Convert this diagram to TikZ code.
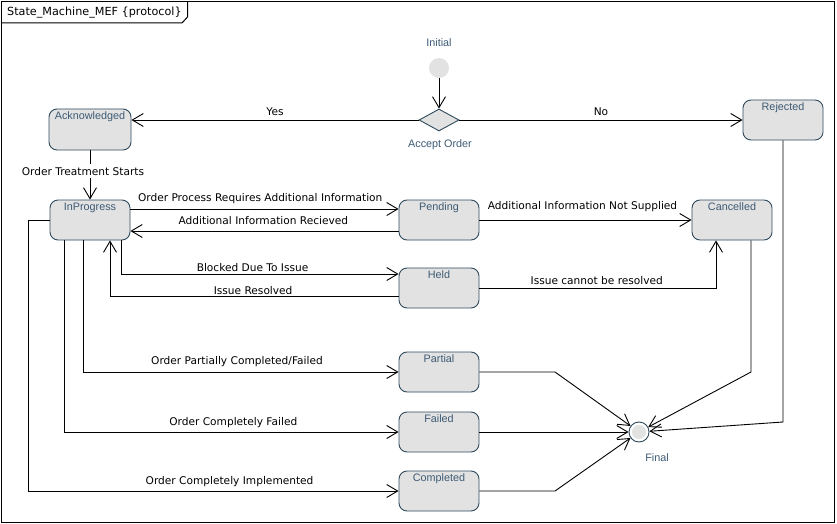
\documentclass[tikz,border=0pt]{standalone}
\usepackage{fontspec}
\setmainfont{DejaVu Sans}
\newfontfamily\nlfont{Liberation Sans}
\usetikzlibrary{arrows.meta,shapes.geometric}
\definecolor{stc}{HTML}{2E4A5C}
\definecolor{stfill}{HTML}{E2E2E2}
\definecolor{lblc}{HTML}{3D5A75}
\begin{document}
\begin{tikzpicture}[x=1pt,y=-1pt,
  stbox/.style={draw=stc,fill=stfill,rounded corners=8pt,minimum width=80pt,minimum height=40pt,inner sep=0pt,line width=0.9pt},
  nlbl/.style={font=\nlfont\fontsize{10.8}{12}\selectfont,text=lblc,inner sep=0pt},
  toplbl/.style={label={[nlbl,anchor=base,yshift=-10.5pt]north:#1}},
  conn/.style={line width=0.9pt,draw=black},
  arr/.style={conn,-{Straight Barb[length=11pt,width=13pt]}},
  elbl/.style={font=\fontsize{10.6}{12}\selectfont,inner sep=0pt,anchor=base}
]
\useasboundingbox (0,0) rectangle (837,524);
% frame
\draw[line width=1.2pt] (1.5,1.5) rectangle (834.5,522.5);
\draw[line width=1pt] (187.5,1.5) -- (187.5,17) -- (182,23) -- (1.5,23);
\node[anchor=base west,inner sep=0pt,font=\fontsize{11.2}{13}\selectfont] (title) at (7,15.5) {State\_Machine\_MEF \{protocol\}};
% pseudo states
\node[circle,fill=stfill,minimum size=20pt,inner sep=0pt] (init) at (439,68) {};
\node[nlbl,anchor=base] (initl) at (439,47) {Initial};
\node[diamond,draw=stc,fill=stfill,line width=0.9pt,minimum width=40pt,minimum height=22pt,inner sep=0pt,aspect=1.8] (dec) at (439,120) {};
\node[nlbl,anchor=base] (decl) at (440,147) {Accept Order};
\node[circle,draw=stc,fill=white,line width=0.9pt,minimum size=20pt,inner sep=0pt] (final) at (639,432) {};
\fill[stfill] (final.center) circle (7pt);
\node[nlbl,anchor=base] (finall) at (657,461) {Final};
% states
\node[stbox,toplbl=Acknowledged,minimum width=82pt,minimum height=41pt] (ack) at (90,129.5) {};
\node[stbox,toplbl=InProgress] (inprog) at (90,220) {};
\node[stbox,toplbl=Pending] (pending) at (439,220) {};
\node[stbox,toplbl=Held] (held) at (439,288) {};
\node[stbox,toplbl=Cancelled] (cancelled) at (732,220) {};
\node[stbox,toplbl=Rejected] (rejected) at (783,120) {};
\node[stbox,toplbl=Partial] (partial) at (439,372) {};
\node[stbox,toplbl=Failed] (failed) at (439,432) {};
\node[stbox,toplbl=Completed] (completed) at (439,491) {};
% helper coordinates
\coordinate (c1) at (28,220);
\coordinate (p1) at (555,372);
\coordinate (p2) at (555,491);
\coordinate (k1) at (751,372);
\coordinate (k2) at (783,422);
% transitions
\draw[arr] (init) -- (dec.north);
\draw[arr] (dec.west) -- (dec.west -| ack.east) node[elbl,pos=0.5,yshift=4pt] {Yes};
\draw[arr] (dec.east) -- (rejected.west) node[elbl,pos=0.5,yshift=4pt] {No};
\draw[arr] (ack.south) -- (inprog.north) node[elbl,pos=0.5,xshift=-7pt,fill=white,inner xsep=1pt,inner ysep=3pt] {Order Treatment Starts};
\draw[arr] ([yshift=11pt]inprog.east) -- ([yshift=11pt]pending.west) node[elbl,pos=0.484,yshift=7.5pt] {Order Process Requires Additional Information};
\draw[arr] ([yshift=-11pt]pending.west) -- ([yshift=-11pt]inprog.east) node[elbl,pos=0.504,yshift=7pt] {Additional Information Recieved};
\draw[arr] ([xshift=31pt]inprog.south) |- ([yshift=14pt]held.west) node[elbl,pos=0.737,yshift=3pt] {Blocked Due To Issue};
\draw[arr] ([yshift=-8pt]held.west) -| ([xshift=20pt]inprog.south) node[elbl,pos=0.252,yshift=2pt] {Issue Resolved};
\draw[arr] (pending.east) -- (cancelled.west) node[elbl,pos=0.486,yshift=10.5pt] {Additional Information Not Supplied};
\draw[arr] (held.east) -| ([xshift=-16pt]cancelled.south) node[elbl,pos=0.248,yshift=3.5pt] {Issue cannot be resolved};
\draw[arr] ([xshift=-7pt]inprog.south) |- (partial.west) node[elbl,pos=0.744,yshift=8pt] {Order Partially Completed/Failed};
\draw[arr] ([xshift=-26pt]inprog.south) |- (failed.west) node[elbl,pos=0.753,yshift=6.5pt] {Order Completely Failed};
\draw[arr] (inprog.west) -- (c1) |- (completed.west) node[elbl,pos=0.772,yshift=7pt] {Order Completely Implemented};
\draw[arr] (partial.east) -- (p1) -- (final);
\draw[arr] (failed.east) -- (final);
\draw[arr] (completed.east) -- (p2) -- (final);
\draw[arr] ([xshift=19pt]cancelled.south) -- (k1) -- (final);
\draw[arr] (rejected.south) -- (k2) -- (final);
\end{tikzpicture}
\end{document}
